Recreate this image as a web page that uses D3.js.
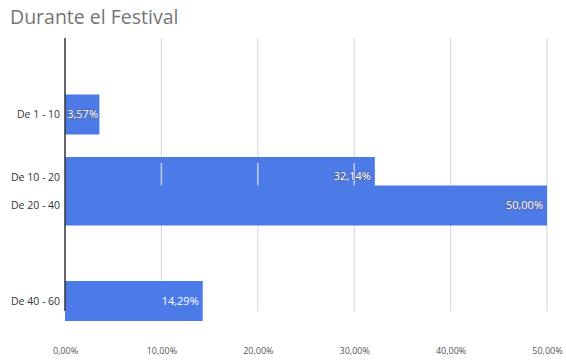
<!DOCTYPE html>
<html>
<head>
<meta charset="utf-8">
<script src="https://cdn.jsdelivr.net/npm/d3@7"></script>
<style>
  body { margin: 0; background: #fff; }
  svg { display: block; font-family: "Open Sans", "Noto Sans", sans-serif; }
</style>
</head>
<body>
<div id="chart"></div>
<script>
// datos del gráfico
const title = 'Durante el Festival'
const categories = ['De 1 - 10', 'De 10 - 20', 'De 20 - 40', 'De 40 - 60']
const values = [0.0357, 0.3214, 0.50, 0.1429]
const xTicks = [0, 0.1, 0.2, 0.3, 0.4, 0.5]

const width = 566
const height = 362
const margin = { top: 38, right: 19, bottom: 51, left: 65 }
const barColor = '#4c7be8'

const svg = d3.select('#chart').append('svg')
  .attr('width', width)
  .attr('height', height)

// formato con coma decimal
const es = d3.formatLocale({ decimal: ',', thousands: '.', grouping: [3], currency: ['', '€'] })
const pct = es.format('.2%')

const x = d3.scaleLinear()
  .domain([0, 0.5])
  .range([margin.left, width - margin.right])

// centros verticales de cada categoría (el original tiene un reparto irregular)
const y = d3.scaleOrdinal()
  .domain(categories)
  .range([114.5, 177, 205.5, 301])
const barH = 40
const plotBottom = 311

// título
svg.append('text')
  .attr('x', 10)
  .attr('y', 24)
  .attr('font-size', 19.5)
  .attr('fill', '#757575')
  .text(title)

// rejilla
svg.append('g')
  .selectAll('line')
  .data(xTicks.slice(1))
  .join('line')
  .attr('x1', d => x(d)).attr('x2', d => x(d))
  .attr('y1', margin.top).attr('y2', plotBottom)
  .attr('stroke', '#dcdcdc')
  .attr('stroke-width', 1.3)

// barras
svg.append('g')
  .selectAll('rect')
  .data(values)
  .join('rect')
  .attr('x', x(0))
  .attr('y', (d, i) => y(categories[i]) - barH / 2)
  .attr('width', d => x(d) - x(0))
  .attr('height', barH)
  .attr('fill', barColor)

// restos de rejilla sobre la segunda barra
const top2 = y(categories[1]) - barH / 2 + 6
const bot2 = y(categories[2]) - barH / 2
svg.append('g')
  .selectAll('line')
  .data(xTicks.slice(1).filter(d => d < values[1]))
  .join('line')
  .attr('x1', d => x(d)).attr('x2', d => x(d))
  .attr('y1', top2).attr('y2', bot2)
  .attr('stroke', 'rgba(230,235,250,0.75)')
  .attr('stroke-width', 1.5)

// eje vertical
svg.append('line')
  .attr('x1', x(0)).attr('x2', x(0))
  .attr('y1', margin.top).attr('y2', plotBottom)
  .attr('stroke', '#333')
  .attr('stroke-width', 1.5)

// etiquetas de categoría
svg.append('g')
  .selectAll('text')
  .data(categories)
  .join('text')
  .attr('x', 60)
  .attr('y', d => y(d))
  .attr('dy', '0.35em')
  .attr('text-anchor', 'end')
  .attr('font-size', 10.5)
  .attr('fill', '#333')
  .text(d => d)

// etiquetas de valor
svg.append('g')
  .selectAll('text')
  .data(values)
  .join('text')
  .attr('x', d => Math.max(x(d) - 4, x(0) + 33))
  .attr('y', (d, i) => y(categories[i]) + (i === 1 ? -1 : 0))
  .attr('dy', '0.35em')
  .attr('text-anchor', 'end')
  .attr('font-size', 11)
  .attr('fill', '#fff')
  .attr('stroke', (d, i) => i === 3 ? 'none' : 'rgba(90,100,140,0.55)')
  .attr('stroke-width', 2)
  .attr('paint-order', 'stroke')
  .text(d => pct(d))

// eje x
const xAxis = d3.axisBottom(x)
  .tickValues(xTicks)
  .tickFormat(pct)
  .tickSize(0)
  .tickPadding(0)

const gx = svg.append('g')
  .attr('transform', `translate(0, 348)`)
  .call(xAxis)
gx.select('.domain').remove()
gx.selectAll('text')
  .attr('font-size', 9)
  .attr('fill', '#555')
  .attr('font-family', '"Open Sans", sans-serif')
</script>
</body>
</html>
